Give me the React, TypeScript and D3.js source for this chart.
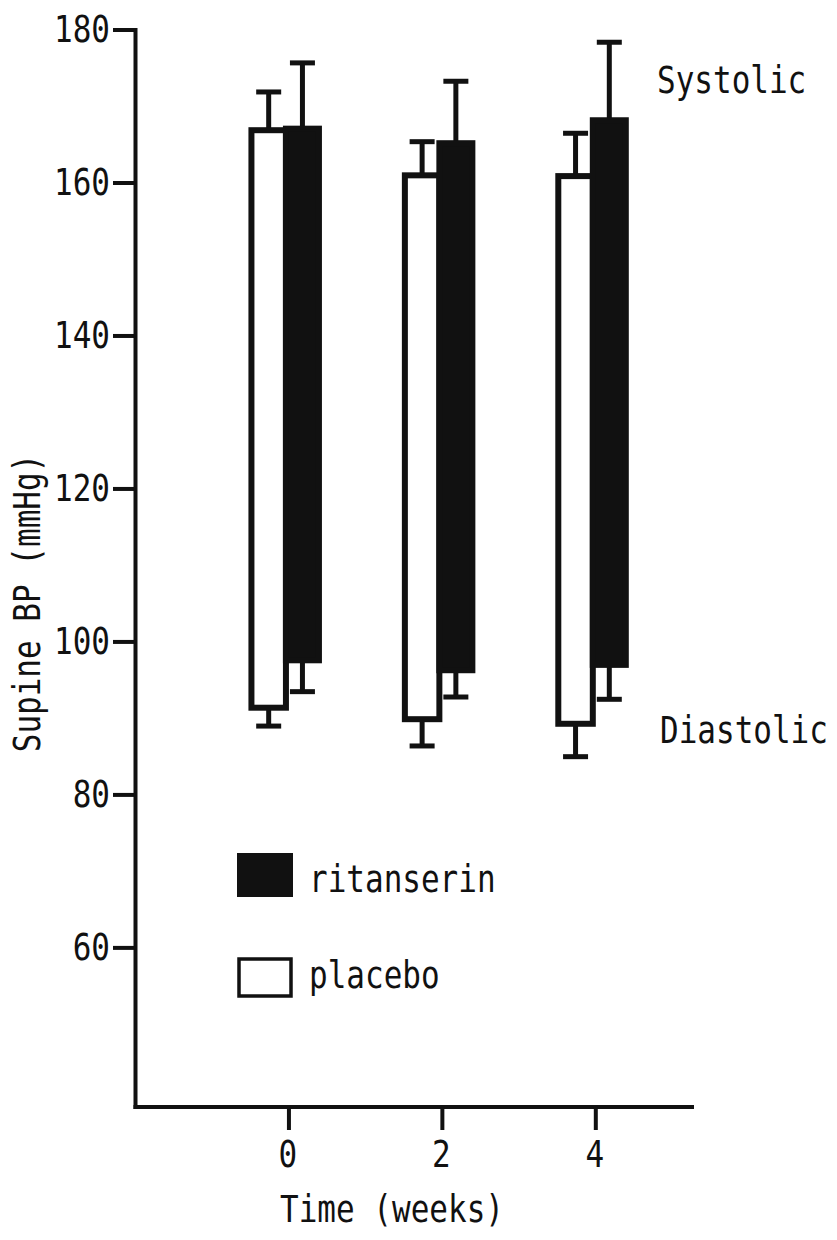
import React from "react";
import * as d3 from "d3";

const weeks = [0, 2, 4];
const placeboSys = [166.9, 161.0, 160.9];
const placeboSysErr = [171.9, 165.4, 166.5];
const placeboDia = [91.4, 89.9, 89.3];
const placeboDiaErr = [89.0, 86.4, 85.0];
const ritSys = [167.1, 165.2, 168.2];
const ritSysErr = [175.7, 173.3, 178.4];
const ritDia = [97.6, 96.3, 97.0];
const ritDiaErr = [93.5, 92.8, 92.5];
const yTicks = [60, 80, 100, 120, 140, 160, 180];
const xTicks = [0, 2, 4];

const FONT = "'DejaVu Sans Mono', monospace";
const FS = 31;
const SY = 1.2;

function T({ x, y, children, anchor = "start", rotate = 0, size = FS }: any) {
  return (
    <g transform={`translate(${x},${y}) rotate(${rotate}) scale(1,${SY})`}>
      <text x={0} y={0} textAnchor={anchor} fontFamily={FONT} fontSize={size} fill="#111">
        {children}
      </text>
    </g>
  );
}

export default function App() {
  const W = 837, H = 1240;
  const y = d3.scaleLinear().domain([39.2, 180]).range([1107, 30]);
  const x = d3.scaleLinear().domain([-2, 5.28]).range([135.5, 694]);
  const x0 = x(-2);
  const yBottom = y(39.2);
  const sw = 6;
  const errW = 5;
  const capHalf = 12.5;

  return (
    <svg width={W} height={H} style={{ position: "absolute", left: 0, top: 0, background: "#fff" }}>
      <rect x={0} y={0} width={W} height={H} fill="#fff" />
      {/* axes */}
      <line x1={x0} x2={x0} y1={y(180) - 2} y2={yBottom + 2} stroke="#111" strokeWidth={4} />
      <line x1={x0 - 2} x2={x(5.28)} y1={yBottom} y2={yBottom} stroke="#111" strokeWidth={4} />
      {yTicks.map((v) => (
        <g key={v}>
          <line x1={113} x2={x0} y1={y(v)} y2={y(v)} stroke="#111" strokeWidth={4} />
          <T x={110} y={y(v) + 12} anchor="end">{v}</T>
        </g>
      ))}
      {xTicks.map((v) => (
        <g key={v}>
          <line x1={x(v)} x2={x(v)} y1={yBottom} y2={1130} stroke="#111" strokeWidth={4} />
          <T x={x(v) - 1} y={1167} anchor="middle">{v}</T>
        </g>
      ))}
      {/* bars */}
      {weeks.map((w, i) => {
        const t = x(w);
        const wl = t - 37.5, wr = t - 3;
        const bl = t - 3, br = t + 30;
        const wc = (wl + wr) / 2, bc = (bl + br) / 2;
        return (
          <g key={w}>
            {/* placebo error bars */}
            <line x1={wc} x2={wc} y1={y(placeboSys[i])} y2={y(placeboSysErr[i])} stroke="#111" strokeWidth={errW} />
            <line x1={wc - capHalf} x2={wc + capHalf} y1={y(placeboSysErr[i])} y2={y(placeboSysErr[i])} stroke="#111" strokeWidth={errW} />
            <line x1={wc} x2={wc} y1={y(placeboDia[i])} y2={y(placeboDiaErr[i])} stroke="#111" strokeWidth={errW} />
            <line x1={wc - capHalf} x2={wc + capHalf} y1={y(placeboDiaErr[i])} y2={y(placeboDiaErr[i])} stroke="#111" strokeWidth={errW} />
            {/* ritanserin error bars */}
            <line x1={bc} x2={bc} y1={y(ritSys[i])} y2={y(ritSysErr[i])} stroke="#111" strokeWidth={errW} />
            <line x1={bc - capHalf} x2={bc + capHalf} y1={y(ritSysErr[i])} y2={y(ritSysErr[i])} stroke="#111" strokeWidth={errW} />
            <line x1={bc} x2={bc} y1={y(ritDia[i])} y2={y(ritDiaErr[i])} stroke="#111" strokeWidth={errW} />
            <line x1={bc - capHalf} x2={bc + capHalf} y1={y(ritDiaErr[i])} y2={y(ritDiaErr[i])} stroke="#111" strokeWidth={errW} />
            {/* placebo bar */}
            <rect x={wl} y={y(placeboSys[i])} width={wr - wl} height={y(placeboDia[i]) - y(placeboSys[i])}
              fill="#fff" stroke="#111" strokeWidth={sw} />
            {/* ritanserin bar */}
            <rect x={bl} y={y(ritSys[i])} width={br - bl} height={y(ritDia[i]) - y(ritSys[i])}
              fill="#111" stroke="#111" strokeWidth={sw} />
          </g>
        );
      })}
      {/* annotations */}
      <T x={657} y={93}>Systolic</T>
      <T x={660} y={743}>Diastolic</T>
      {/* legend */}
      <rect x={238} y={854} width={54} height={42} fill="#111" stroke="#111" strokeWidth={2} />
      <T x={309} y={892}>ritanserin</T>
      <rect x={239} y={959} width={52} height={37} fill="#fff" stroke="#111" strokeWidth={3.5} />
      <T x={309} y={988}>placebo</T>
      {/* axis titles */}
      <T x={392} y={1222} anchor="middle">Time (weeks)</T>
      <T x={40} y={603} anchor="middle" rotate={-90}>Supine BP (mmHg)</T>
    </svg>
  );
}
